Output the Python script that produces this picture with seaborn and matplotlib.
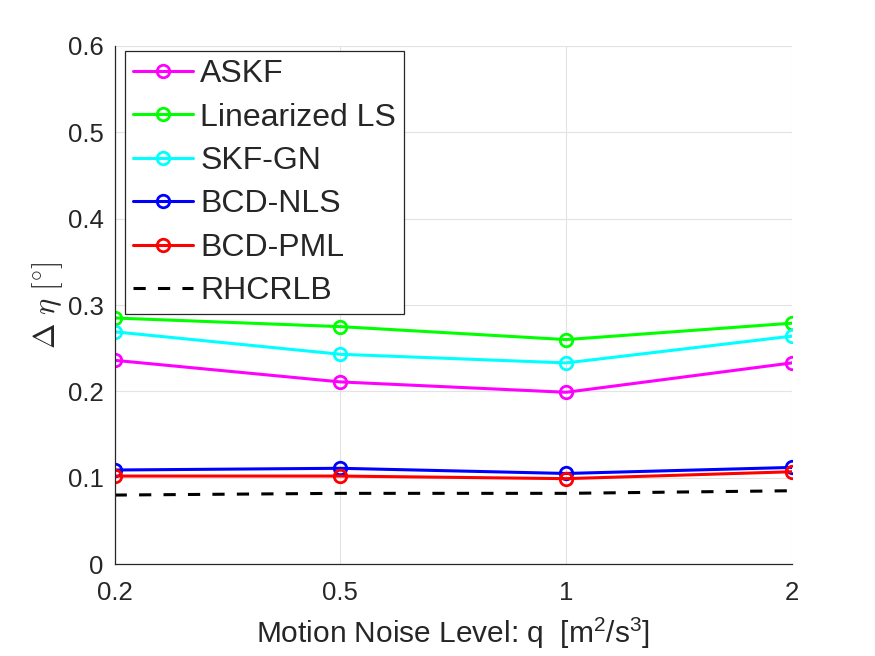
import numpy as np
import matplotlib
matplotlib.use('Agg')
import matplotlib.pyplot as plt
import seaborn as sns
import pandas as pd

# noise levels (plotted at equally spaced positions)
q_labels = ['0.2', '0.5', '1', '2']
q_pos = [0, 1, 2, 3]

askf = [0.236, 0.211, 0.199, 0.233]
lin_ls = [0.285, 0.275, 0.260, 0.279]
skf_gn = [0.269, 0.243, 0.233, 0.264]
bcd_nls = [0.109, 0.111, 0.105, 0.112]
bcd_pml = [0.102, 0.102, 0.099, 0.107]
rhcrlb = [0.080, 0.082, 0.082, 0.085]

series = ['ASKF', 'Linearized LS', 'SKF-GN', 'BCD-NLS', 'BCD-PML', 'RHCRLB']
values = [askf, lin_ls, skf_gn, bcd_nls, bcd_pml, rhcrlb]
colors = ['#ff00ff', '#00ff00', '#00ffff', '#0000ff', '#ff0000', '#000000']

rows = []
for name, vals in zip(series, values):
    for p, v in zip(q_pos, vals):
        rows.append({'method': name, 'q': p, 'err': v})
df = pd.DataFrame(rows)

sns.set_style('white')
plt.rcParams['font.family'] = ['Liberation Sans', 'DejaVu Sans']
plt.rcParams['mathtext.fontset'] = 'custom'
plt.rcParams['mathtext.rm'] = 'Liberation Sans'
plt.rcParams['mathtext.it'] = 'Liberation Sans:italic'

fig = plt.figure(figsize=(8.75, 6.56), dpi=100)
ax = fig.add_axes([0.131, 0.140, 0.774, 0.790])

for name, col in zip(series, colors):
    sub = df[df['method'] == name]
    if name == 'RHCRLB':
        sns.lineplot(x='q', y='err', data=sub, ax=ax, color=col, lw=2.2,
                     linestyle=(0, (4, 4)), label=name)
    else:
        sns.lineplot(x='q', y='err', data=sub, ax=ax, color=col, lw=2.2,
                     marker='o', markersize=9, markerfacecolor='none',
                     markeredgecolor=col, markeredgewidth=2, label=name)

ax.set_xlim(0, 3)
ax.set_ylim(0, 0.6)
ax.set_xticks(q_pos)
ax.set_xticklabels(q_labels)
ax.set_yticks(np.arange(0, 0.61, 0.1))
ax.set_yticklabels(['0', '0.1', '0.2', '0.3', '0.4', '0.5', '0.6'])
ax.grid(True, color='#e3e3e3', lw=0.8)
ax.tick_params(axis='both', labelsize=18.5, colors='#262626', direction='in',
               length=4, width=0.8)
ax.tick_params(axis='x', pad=12)
ax.tick_params(axis='y', pad=8)
for side in ['top', 'right']:
    ax.spines[side].set_visible(False)
for side in ['left', 'bottom']:
    ax.spines[side].set_color('#262626')
    ax.spines[side].set_linewidth(0.9)

ax.set_xlabel(r'Motion Noise Level: q  [m$^2$/s$^3$]', fontsize=21.5,
              color='#262626', labelpad=8)
ax.set_ylabel(r'$\Delta\ \eta\ [^{\circ}]$', fontsize=22, color='#262626',
              labelpad=2, math_fontfamily='cm')

leg = ax.legend(loc='upper left', bbox_to_anchor=(0.0148, 0.990),
                fontsize=23, frameon=True, fancybox=False,
                edgecolor='#262626', framealpha=1, handlelength=1.9,
                handletextpad=0.22, borderaxespad=0, labelspacing=0.42,
                borderpad=0.25)
leg.get_frame().set_linewidth(0.9)

plt.savefig('out.png', dpi=100)
